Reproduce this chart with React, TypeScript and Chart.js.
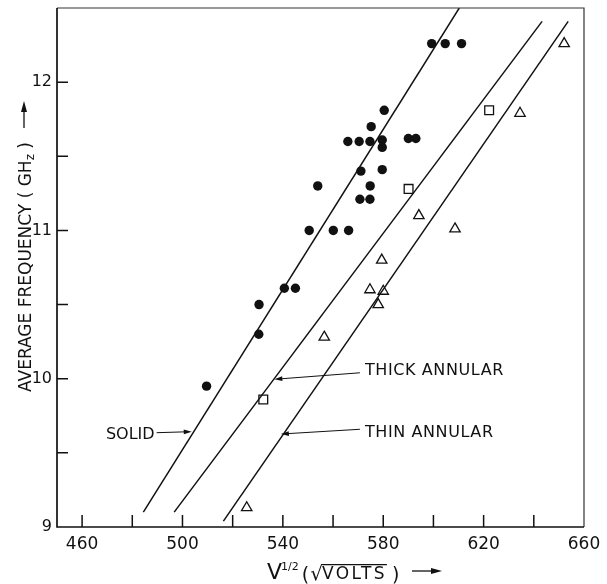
import React, { useEffect, useRef } from "react";
import { Chart, registerables } from "chart.js";

Chart.register(...registerables);

// ---- data ----
const solidX = [509.6, 530.4, 530.5, 540.6, 545.0, 550.5, 560.1, 566.2, 553.9, 570.7, 574.7, 574.8, 571.1, 579.6, 565.9, 570.4, 574.7, 579.6, 579.6, 575.2, 580.4, 590.0, 593.0, 599.3, 604.7, 611.2];
const solidY = [9.95, 10.30, 10.50, 10.61, 10.61, 11.00, 11.00, 11.00, 11.30, 11.21, 11.21, 11.30, 11.40, 11.41, 11.60, 11.60, 11.60, 11.61, 11.56, 11.70, 11.81, 11.62, 11.62, 12.26, 12.26, 12.26];

const thickX = [532.2, 590.1, 622.2];
const thickY = [9.86, 11.28, 11.81];

const thinX = [525.6, 556.5, 574.7, 580.0, 578.0, 579.4, 594.2, 608.6, 634.5, 652.1];
const thinY = [9.13, 10.28, 10.60, 10.59, 10.50, 10.80, 11.10, 11.01, 11.79, 12.26];

const solidLineX = [484.4, 610.3];
const solidLineY = [9.10, 12.50];
const thickLineX = [496.7, 643.3];
const thickLineY = [9.10, 12.41];
const thinLineX = [516.3, 653.7];
const thinLineY = [9.04, 12.41];

const xTickValues = [460, 480, 500, 520, 540, 560, 580, 600, 620, 640, 660];
const xLabelValues = [460, 500, 540, 580, 620, 660];
const yTickValues = [9, 9.5, 10, 10.5, 11, 11.5, 12];
const yLabelValues = [9, 10, 11, 12];

const calloutLabels = ["SOLID", "THICK ANNULAR", "THIN ANNULAR"];
const calloutTextX = [469.5, 572.7, 572.7];
const calloutTextY = [9.632, 10.064, 9.648];
const calloutTailX = [489.7, 570.7, 570.7];
const calloutTailY = [9.636, 10.04, 9.659];
const calloutHeadX = [503.7, 536.6, 539.2];
const calloutHeadY = [9.643, 9.996, 9.627];

// ---- styling ----
const FONT = '"DejaVu Sans", sans-serif';
const INK = "#111";

const pts = (xs: number[], ys: number[]) => xs.map((x, i) => ({ x, y: ys[i] }));

function arrow(ctx: CanvasRenderingContext2D, x1: number, y1: number, x2: number, y2: number, len = 8, half = 2.6) {
  const a = Math.atan2(y2 - y1, x2 - x1);
  ctx.beginPath();
  ctx.moveTo(x1, y1);
  ctx.lineTo(x2 - Math.cos(a) * len * 0.6, y2 - Math.sin(a) * len * 0.6);
  ctx.stroke();
  ctx.beginPath();
  ctx.moveTo(x2, y2);
  ctx.lineTo(x2 - Math.cos(a) * len - Math.sin(a) * half, y2 - Math.sin(a) * len + Math.cos(a) * half);
  ctx.lineTo(x2 - Math.cos(a) * len + Math.sin(a) * half, y2 - Math.sin(a) * len - Math.cos(a) * half);
  ctx.closePath();
  ctx.fill();
}

const decorPlugin = {
  id: "decor",
  afterDraw(chart: any) {
    const ctx: CanvasRenderingContext2D = chart.ctx;
    const { left, right, top, bottom } = chart.chartArea;
    const xs = chart.scales.x;
    const ys = chart.scales.y;
    ctx.save();
    ctx.strokeStyle = INK;
    ctx.fillStyle = INK;

    // frame
    ctx.lineWidth = 1.2;
    ctx.strokeStyle = "#333";
    ctx.beginPath();
    ctx.moveTo(left, top);
    ctx.lineTo(right, top);
    ctx.lineTo(right, bottom);
    ctx.stroke();
    ctx.strokeStyle = INK;
    ctx.lineWidth = 1.7;
    ctx.beginPath();
    ctx.moveTo(left, top);
    ctx.lineTo(left, bottom);
    ctx.lineTo(right, bottom);
    ctx.stroke();

    // inward tick marks
    ctx.lineWidth = 1.5;
    ctx.beginPath();
    xTickValues.forEach((v) => {
      const px = xs.getPixelForValue(v);
      if (px > left + 1 && px < right - 1) {
        ctx.moveTo(px, bottom);
        ctx.lineTo(px, bottom - 12);
      }
    });
    yTickValues.forEach((v) => {
      const py = ys.getPixelForValue(v);
      if (py < bottom - 1 && py > top + 1) {
        ctx.moveTo(left, py);
        ctx.lineTo(left + 11, py);
      }
    });
    ctx.stroke();

    // callouts
    ctx.font = `16px ${FONT}`;
    ctx.textBaseline = "alphabetic";
    ctx.textAlign = "left";
    calloutLabels.forEach((label, i) => {
      (ctx as any).letterSpacing = i === 0 ? "0px" : "0.6px";
      const tx = xs.getPixelForValue(calloutTextX[i]);
      const ty = ys.getPixelForValue(calloutTextY[i]);
      ctx.fillText(label, tx, ty + 5.8);
      ctx.lineWidth = 1;
      arrow(
        ctx,
        xs.getPixelForValue(calloutTailX[i]),
        ys.getPixelForValue(calloutTailY[i]),
        xs.getPixelForValue(calloutHeadX[i]),
        ys.getPixelForValue(calloutHeadY[i]),
        8,
        2.4
      );
    });
    (ctx as any).letterSpacing = "0px";

    // x-axis title: V^(1/2) ( sqrt(VOLTS) ) ->
    {
      let x = 267;
      const base = 579;
      ctx.font = `22px ${FONT}`;
      ctx.fillText("V", x, base);
      x += ctx.measureText("V").width - 1;
      ctx.font = `11px ${FONT}`;
      ctx.fillText("1/2", x, 570);
      x += ctx.measureText("1/2").width + 3;
      ctx.font = `19px ${FONT}`;
      ctx.fillText("(", x, 581);
      x += ctx.measureText("(").width + 1;
      ctx.font = `20px ${FONT}`;
      const m = ctx.measureText("\u221A");
      ctx.fillText("\u221A", x, base + 1);
      const ovY = base + 1 - m.actualBoundingBoxAscent + 0.6;
      const ovStart = x + m.actualBoundingBoxRight - 0.6;
      x += m.width - 1;
      ctx.font = `17px ${FONT}`;
      (ctx as any).letterSpacing = "2.4px";
      ctx.fillText("VOLTS", x, base);
      const vw = ctx.measureText("VOLTS").width;
      (ctx as any).letterSpacing = "0px";
      ctx.lineWidth = 1.2;
      ctx.beginPath();
      ctx.moveTo(ovStart, ovY);
      ctx.lineTo(x + vw, ovY);
      ctx.stroke();
      x += vw + 5;
      ctx.font = `19px ${FONT}`;
      ctx.fillText(")", x, 581);
      ctx.lineWidth = 1.3;
      arrow(ctx, 412, 571, 442, 571, 11, 3);
    }

    // y-axis title (rotated)
    {
      ctx.save();
      ctx.translate(31, 392);
      ctx.rotate(-Math.PI / 2);
      let x = 0;
      ctx.font = `17px ${FONT}`;
      const main = "AVERAGE FREQUENCY ( GH";
      ctx.fillText(main, x, 0);
      x += ctx.measureText(main).width;
      ctx.font = `12px ${FONT}`;
      ctx.fillText("z", x, 3);
      x += ctx.measureText("z").width;
      ctx.font = `17px ${FONT}`;
      ctx.fillText(" )", x, 0);
      x += ctx.measureText(" )").width;
      ctx.lineWidth = 1.3;
      arrow(ctx, x + 14, -7, x + 41, -7, 11, 3);
      ctx.restore();
    }

    ctx.restore();
  },
};

export default function App() {
  const ref = useRef<HTMLCanvasElement>(null);

  useEffect(() => {
    if (!ref.current) return;
    const lineDs = (xs: number[], ys: number[], label: string) => ({
      type: "line" as const,
      label,
      data: pts(xs, ys),
      borderColor: INK,
      borderWidth: 1.5,
      pointRadius: 0,
      fill: false,
      tension: 0,
    });
    const chart = new Chart(ref.current, {
      type: "scatter",
      data: {
        datasets: [
          lineDs(solidLineX, solidLineY, "Solid fit"),
          lineDs(thickLineX, thickLineY, "Thick annular fit"),
          lineDs(thinLineX, thinLineY, "Thin annular fit"),
          {
            label: "Solid",
            data: pts(solidX, solidY),
            pointStyle: "circle",
            pointRadius: 4.7,
            backgroundColor: INK,
            borderColor: INK,
            borderWidth: 0,
          },
          {
            label: "Thick annular",
            data: pts(thickX, thickY),
            pointStyle: "rect",
            pointRadius: 6.2,
            backgroundColor: "rgba(0,0,0,0)",
            borderColor: INK,
            borderWidth: 1.3,
          },
          {
            label: "Thin annular",
            data: pts(thinX, thinY),
            pointStyle: "triangle",
            pointRadius: 6,
            backgroundColor: "rgba(0,0,0,0)",
            borderColor: INK,
            borderWidth: 1.3,
          },
        ] as any,
      },
      options: {
        responsive: false,
        animation: false,
        devicePixelRatio: 1,
        layout: { padding: { left: 0, right: 23, top: 8, bottom: 0 } },
        plugins: {
          legend: { display: false },
          tooltip: { enabled: false },
          title: { display: false },
        },
        scales: {
          x: {
            type: "linear",
            min: 450,
            max: 660,
            afterBuildTicks: (s: any) => {
              s.ticks = xTickValues.map((v) => ({ value: v }));
            },
            afterFit: (s: any) => {
              s.height = 57;
              s.paddingLeft = 0;
              s.paddingRight = 0;
              s.paddingTop = 0;
              s.paddingBottom = 0;
            },
            grid: { display: false, drawTicks: false },
            border: { display: false },
            ticks: {
              autoSkip: false,
              maxRotation: 0,
              padding: 7,
              color: INK,
              font: { family: FONT, size: 17 },
              callback: (v: any) => (xLabelValues.includes(Number(v)) ? String(v) : ""),
            },
          },
          y: {
            type: "linear",
            min: 9,
            max: 12.5,
            afterBuildTicks: (s: any) => {
              s.ticks = yTickValues.map((v) => ({ value: v }));
            },
            afterFit: (s: any) => {
              s.width = 57;
              s.paddingLeft = 0;
              s.paddingRight = 0;
              s.paddingTop = 0;
              s.paddingBottom = 0;
            },
            grid: { display: false, drawTicks: false },
            border: { display: false },
            ticks: {
              autoSkip: false,
              padding: 5,
              color: INK,
              font: { family: FONT, size: 16 },
              callback: (v: any) => (yLabelValues.includes(Number(v)) ? String(v) : ""),
            },
          },
        },
      } as any,
      plugins: [decorPlugin],
    });
    return () => chart.destroy();
  }, []);

  return (
    <div style={{ position: "absolute", left: 0, top: 0, width: 607, height: 584, background: "#fff" }}>
      <canvas ref={ref} width={607} height={584} style={{ display: "block" }} />
    </div>
  );
}
